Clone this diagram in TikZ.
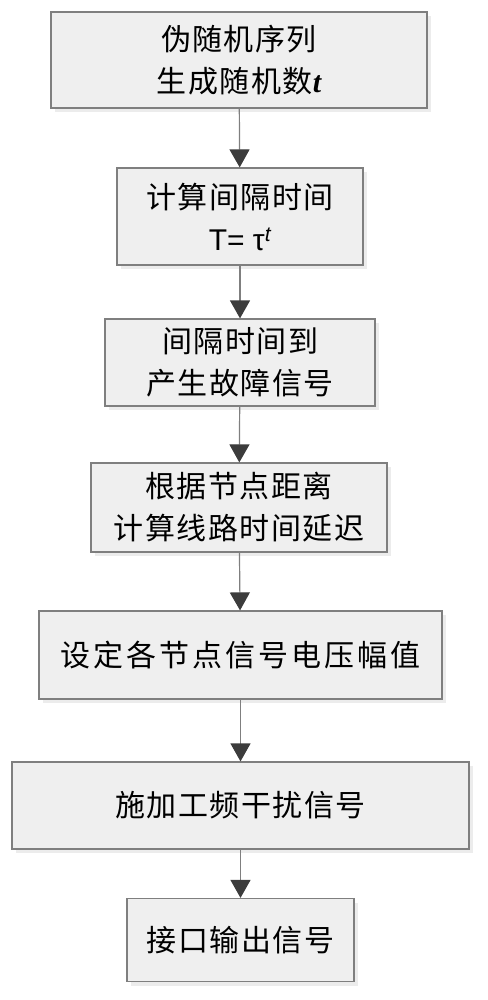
\documentclass[tikz,border=0pt]{standalone}
\usepackage{fontspec}
\usetikzlibrary{arrows.meta,shadows}
\newfontfamily\cjk[LetterSpace=5]{Noto Sans CJK SC}
\newfontfamily\cjkwide[LetterSpace=10]{Noto Sans CJK SC}
\newfontfamily\arl{Liberation Sans}
\newfontfamily\tnr{Liberation Serif}
\definecolor{boxfill}{HTML}{EFEFEF}
\definecolor{boxline}{HTML}{7F7F7F}
\definecolor{tipgray}{HTML}{3C3C3C}

\begin{document}
\begin{tikzpicture}[x=1pt,y=-1pt,
  stepbox/.style={draw=boxline,line width=1.2pt,fill=boxfill,inner sep=0pt,align=center,
    font=\cjk\fontsize{30pt}{42pt}\selectfont,
    drop shadow={shadow xshift=4pt,shadow yshift=-4pt,fill=black!15}},
  flow/.style={draw=boxline,line width=1.2pt,-{Triangle[width=20pt,length=18pt,color=tipgray]}}]
\useasboundingbox (0,0) rectangle (487,1000);
\node[stepbox,minimum width=376pt,minimum height=96pt] (seq) at (239,60) {伪随机序列\\生成随机数{\tnr\bfseries\itshape t}};
\node[stepbox,minimum width=246pt,minimum height=97pt] (intv) at (240,216.5) {计算间隔时间\\{\arl T=~τ\textsuperscript{\itshape t}}};
\node[stepbox,minimum width=270pt,minimum height=87pt] (fault) at (240,362.5) {间隔时间到\\产生故障信号};
\node[stepbox,minimum width=296pt,minimum height=89pt] (delay) at (239,507.5) {根据节点距离\\计算线路时间延迟};
\node[stepbox,minimum width=403pt,minimum height=88pt,font=\cjkwide\fontsize{30pt}{42pt}\selectfont] (volt) at (240.5,655) {设定各节点信号电压幅值};
\node[stepbox,minimum width=457pt,minimum height=87pt] (noise) at (240.5,805.5) {施加工频干扰信号};
\node[stepbox,minimum width=227pt,minimum height=83pt] (out) at (240.5,940) {接口输出信号};
\draw[flow] (seq) -- (intv);
\draw[flow] (intv) -- (fault);
\draw[flow] (fault) -- (delay);
\draw[flow] (delay) -- (volt);
\draw[flow] (volt) -- (noise);
\draw[flow] (noise) -- (out);
\end{tikzpicture}
\end{document}
